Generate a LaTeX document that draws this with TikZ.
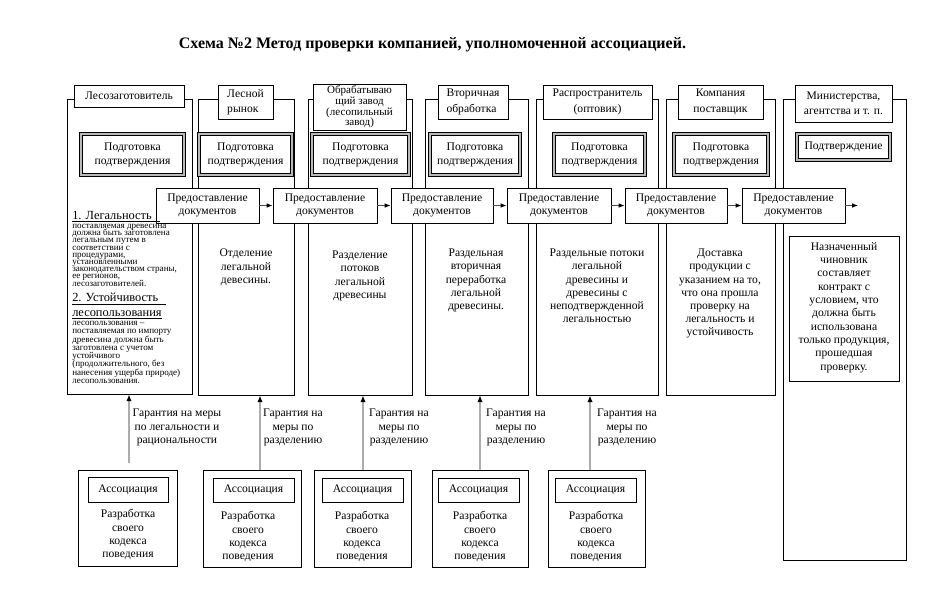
\documentclass[tikz,border=0pt]{standalone}
\usepackage{fontspec}
\setmainfont{Liberation Serif}
\usetikzlibrary{arrows.meta}
\newcommand\tightls{\lineskiplimit=-10pt\relax}
\newcommand\bx[7]{%
  \pgfmathsetmacro\bxw{(#4-#2)*0.75}%
  \pgfmathsetmacro\bxh{(#5-#3)*0.75}%
  \pgfmathsetmacro\bxcx{(#2+#4)/2}%
  \pgfmathsetmacro\bxcy{(#3+#5)/2}%
  \node[#6, minimum width=\bxw pt, minimum height=\bxh pt, inner sep=0pt] (#1) at (\bxcx,\bxcy) {#7};}
\begin{document}
\begin{tikzpicture}[x=0.75pt,y=-0.75pt,
  colbox/.style={draw, line width=0.6pt},
  hdr/.style={draw, fill=white, line width=0.6pt, font=\fontsize{8.7}{11.5}\selectfont, align=center},
  hdrl/.style={hdr, align=left},
  hdrt/.style={hdr, font=\fontsize{8.3}{8.1}\selectfont\tightls},
  prep/.style={draw=black, double=gray!55, double distance=1.6pt, line width=0.6pt, fill=white, font=\fontsize{8.7}{10.5}\selectfont, align=center},
  doc/.style={draw, fill=white, line width=0.6pt, font=\fontsize{8.7}{9.6}\selectfont, align=center},
  body/.style={font=\fontsize{8.7}{9.8}\selectfont, align=center, inner sep=0pt},
  small/.style={font=\fontsize{6.8}{5.4}\selectfont\tightls, align=left, inner sep=0pt},
  smallb/.style={font=\fontsize{6.8}{6.2}\selectfont\tightls, align=left, inner sep=0pt},
  uhead/.style={font=\fontsize{9.3}{10}\selectfont, inner sep=0pt},
  lbl/.style={font=\fontsize{8.7}{10.1}\selectfont, align=center, inner sep=0pt},
  assoc/.style={draw, line width=0.6pt},
  assocn/.style={assoc, font=\fontsize{8.7}{10}\selectfont},
  flow/.style={draw=gray!60!black, line width=0.7pt, -{Latex[black,length=4.5pt,width=3.5pt]}},
  guar/.style={draw=gray!65, line width=1.3pt, -{Latex[black,length=5pt,width=4pt]}}
]
\useasboundingbox (0,0) rectangle (937,597);

% title
\node[font=\bfseries\fontsize{12}{14}\selectfont, inner sep=0pt] (title) at (432.5,45)
  {Схема №2 Метод проверки компанией, уполномоченной ассоциацией.};

% columns
\bx{col1}{67}{99}{192}{394}{colbox}{}
\bx{col2}{198}{99}{294}{395}{colbox}{}
\bx{col3}{308}{99}{412}{395}{colbox}{}
\bx{col4}{425}{99}{528}{395}{colbox}{}
\bx{col5}{536}{99}{658}{395}{colbox}{}
\bx{col6}{666}{99}{775}{395}{colbox}{}
\bx{col7}{783}{99}{906}{560}{colbox}{}

% headers
\bx{h1}{74}{85}{184}{107}{hdr}{Лесозаготовитель}
\bx{h2}{218}{85}{273}{119}{hdrl}{Лесной\\рынок}
\bx{h3}{313}{84}{406}{130}{hdrt}{Обрабатываю\\щий завод\\(лесопильный\\завод)}
\bx{h4}{438}{85}{508}{119}{hdrl}{Вторичная\\обработка}
\bx{h5}{543}{85}{652}{119}{hdr}{Распространитель\\(оптовик)}
\bx{h6}{678}{85}{763}{119}{hdr}{Компания\\поставщик}
\bx{h7}{795}{85}{892}{122}{hdr}{Министерства,\\агентства и т. п.}

% preparation boxes
\bx{p1}{81}{134}{184}{175}{prep}{Подготовка\\подтверждения}
\bx{p2}{199}{134}{292}{175}{prep}{Подготовка\\подтверждения}
\bx{p3}{312}{134}{409}{175}{prep}{Подготовка\\подтверждения}
\bx{p4}{430}{134}{520}{175}{prep}{Подготовка\\подтверждения}
\bx{p5}{554}{134}{645}{175}{prep}{Подготовка\\подтверждения}
\bx{p6}{674}{134}{768}{175}{prep}{Подготовка\\подтверждения}
\bx{p7}{797}{134}{890}{160}{prep}{Подтверждение}

% document boxes
\bx{d1}{156}{188}{259}{223}{doc}{Предоставление\\документов}
\bx{d2}{273}{188}{377}{223}{doc}{Предоставление\\документов}
\bx{d3}{391}{188}{493}{223}{doc}{Предоставление\\документов}
\bx{d4}{507}{188}{611}{223}{doc}{Предоставление\\документов}
\bx{d5}{625}{188}{727}{223}{doc}{Предоставление\\документов}
\bx{d6}{742}{188}{845}{223}{doc}{Предоставление\\документов}
\coordinate (dend) at (858,205.5);
\draw[flow] (d1.east) -- (d2.west);
\draw[flow] (d2.east) -- (d3.west);
\draw[flow] (d3.east) -- (d4.west);
\draw[flow] (d4.east) -- (d5.west);
\draw[flow] (d5.east) -- (d6.west);
\draw[flow] (d6.east) -- (dend);

% column 1 text
\node[uhead, anchor=north west] (t1a) at (72,211) {\underline{1. Легальность\hspace{6pt}}};
\node[small, anchor=north west] (t1b) at (72,224) {поставляемая древесина\\должна быть заготовлена\\легальным путем в\\соответствии с\\процедурами,\\установленными\\законодательством страны,\\ее регионов,\\лесозаготовителей.};
\node[uhead, anchor=north west] (t1c) at (72,293) {\underline{2. Устойчивость\hspace{6pt}}};
\node[uhead, anchor=north west] (t1d) at (72,310) {\underline{лесопользования}};
\node[smallb, anchor=north west] (t1e) at (72,321) {лесопользования –\\поставляемая по импорту\\древесина должна быть\\заготовлена с учетом\\устойчивого\\(продолжительного, без\\нанесения ущерба природе)\\лесопользования.};

% column texts
\node[body, anchor=north] (t2) at (246,249) {Отделение\\легальной\\девесины.};
\node[body, anchor=north] (t3) at (360,251) {Разделение\\потоков\\легальной\\древесины};
\node[body, anchor=north] (t4) at (476,249) {Раздельная\\вторичная\\переработка\\легальной\\древесины.};
\node[body, anchor=north] (t5) at (597,249) {Раздельные потоки\\легальной\\древесины и\\древесины с\\неподтвержденной\\легальностью};
\node[body, anchor=north] (t6) at (720,249) {Доставка\\продукции с\\указанием на то,\\что она прошла\\проверку на\\легальность и\\устойчивость};
\bx{c7}{789}{236}{899}{381}{assoc}{}
\node[body, anchor=north, font=\fontsize{8.7}{10}\selectfont] (t7) at (844,242) {Назначенный\\чиновник\\составляет\\контракт с\\условием, что\\должна быть\\использована\\только продукция,\\прошедшая\\проверку.};

% associations
\bx{b1}{78}{470}{177}{566}{assoc}{}
\bx{b2}{203}{470}{301}{567}{assoc}{}
\bx{b3}{314}{470}{411}{567}{assoc}{}
\bx{b4}{432}{470}{528}{567}{assoc}{}
\bx{b5}{548}{470}{645}{567}{assoc}{}
\bx{a1}{88}{477}{168}{502}{assocn}{Ассоциация}
\bx{a2}{213}{478}{294}{502}{assocn}{Ассоциация}
\bx{a3}{322}{478}{403}{502}{assocn}{Ассоциация}
\bx{a4}{438}{478}{519}{502}{assocn}{Ассоциация}
\bx{a5}{555}{478}{636}{502}{assocn}{Ассоциация}
\node[lbl, anchor=north] (r1) at (128,509) {Разработка\\своего\\кодекса\\поведения};
\node[lbl, anchor=north] (r2) at (248,511) {Разработка\\своего\\кодекса\\поведения};
\node[lbl, anchor=north] (r3) at (362,511) {Разработка\\своего\\кодекса\\поведения};
\node[lbl, anchor=north] (r4) at (480,511) {Разработка\\своего\\кодекса\\поведения};
\node[lbl, anchor=north] (r5) at (596,511) {Разработка\\своего\\кодекса\\поведения};

% guarantee arrows
\coordinate (g1s) at (129,463);
\coordinate (x2) at (260,0);
\coordinate (x3) at (363,0);
\coordinate (x4) at (480,0);
\coordinate (x5) at (590,0);
\draw[guar] (g1s) -- (g1s |- col1.south);
\draw[guar] (b2.north -| x2) -- (col2.south -| x2);
\draw[guar] (b3.north -| x3) -- (col3.south -| x3);
\draw[guar] (b4.north -| x4) -- (col4.south -| x4);
\draw[guar] (b5.north -| x5) -- (col5.south -| x5);

\node[lbl, anchor=north] (l1) at (177,409) {Гарантия на меры\\по легальности и\\рациональности};
\node[lbl, anchor=north] (l2) at (293,409) {Гарантия на\\меры по\\разделению};
\node[lbl, anchor=north] (l3) at (399,409) {Гарантия на\\меры по\\разделению};
\node[lbl, anchor=north] (l4) at (516,409) {Гарантия на\\меры по\\разделению};
\node[lbl, anchor=north] (l5) at (627,409) {Гарантия на\\меры по\\разделению};
\end{tikzpicture}
\end{document}
